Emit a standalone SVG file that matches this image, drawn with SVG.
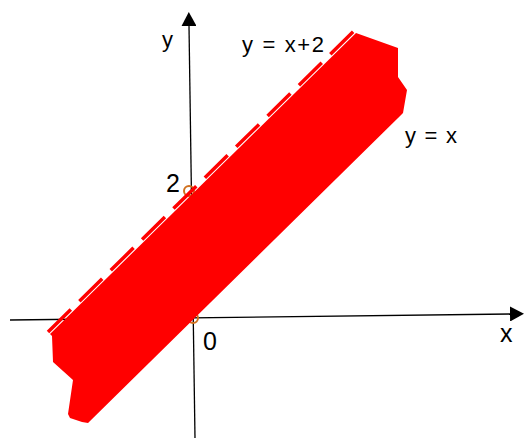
<svg xmlns="http://www.w3.org/2000/svg" width="524" height="438" viewBox="0 0 524 438">
<style>
.ax{stroke:#000;stroke-width:1.3;fill:none}
.t{font-family:"Liberation Sans",Arial,sans-serif;fill:#000}
.pt{fill:none;stroke:#D0701E;stroke-width:2}
</style>
<defs>
<marker id="ah" viewBox="0 0 14 15" refX="0" refY="7.5" markerWidth="14" markerHeight="15" markerUnits="userSpaceOnUse" orient="auto">
<path d="M0,0 L14,7.5 L0,15 Z" fill="#000"/>
</marker>
</defs>
<rect width="524" height="438" fill="#fff"/>
<g id="connectors">
<line id="x-axis" class="ax" x1="10" y1="320" x2="510" y2="314" marker-end="url(#ah)"/>
<line id="y-axis" class="ax" x1="195" y1="438" x2="189" y2="26" marker-end="url(#ah)"/>
</g>
<g id="points">
<circle class="pt" cx="189" cy="191" r="5"/>
<circle class="pt" cx="193" cy="318" r="5"/>
</g>
<g id="region">
<polygon fill="#FF0000" points="50,334 356,33 398,48 398,77 407,90 403,113 398,118 88,423 82,422 70,418 68,414 73,380 53,362 52,336"/>
<line id="y-eq-x-plus-2" x1="48" y1="332" x2="354" y2="31" stroke="#FF0000" stroke-width="3.5" stroke-dasharray="32 12"/>
</g>
<g id="labels">
<text class="t" x="162" y="47" font-size="22">y</text>
<text class="t" x="500" y="342" font-size="25">x</text>
<text class="t" x="203" y="350" font-size="25">0</text>
<text class="t" x="166" y="192" font-size="25">2</text>
<text class="t" x="242" y="52" font-size="22" textLength="82" lengthAdjust="spacing">y = x+2</text>
<text class="t" x="405" y="143" font-size="22" textLength="52" lengthAdjust="spacing">y = x</text>
</g>
</svg>
